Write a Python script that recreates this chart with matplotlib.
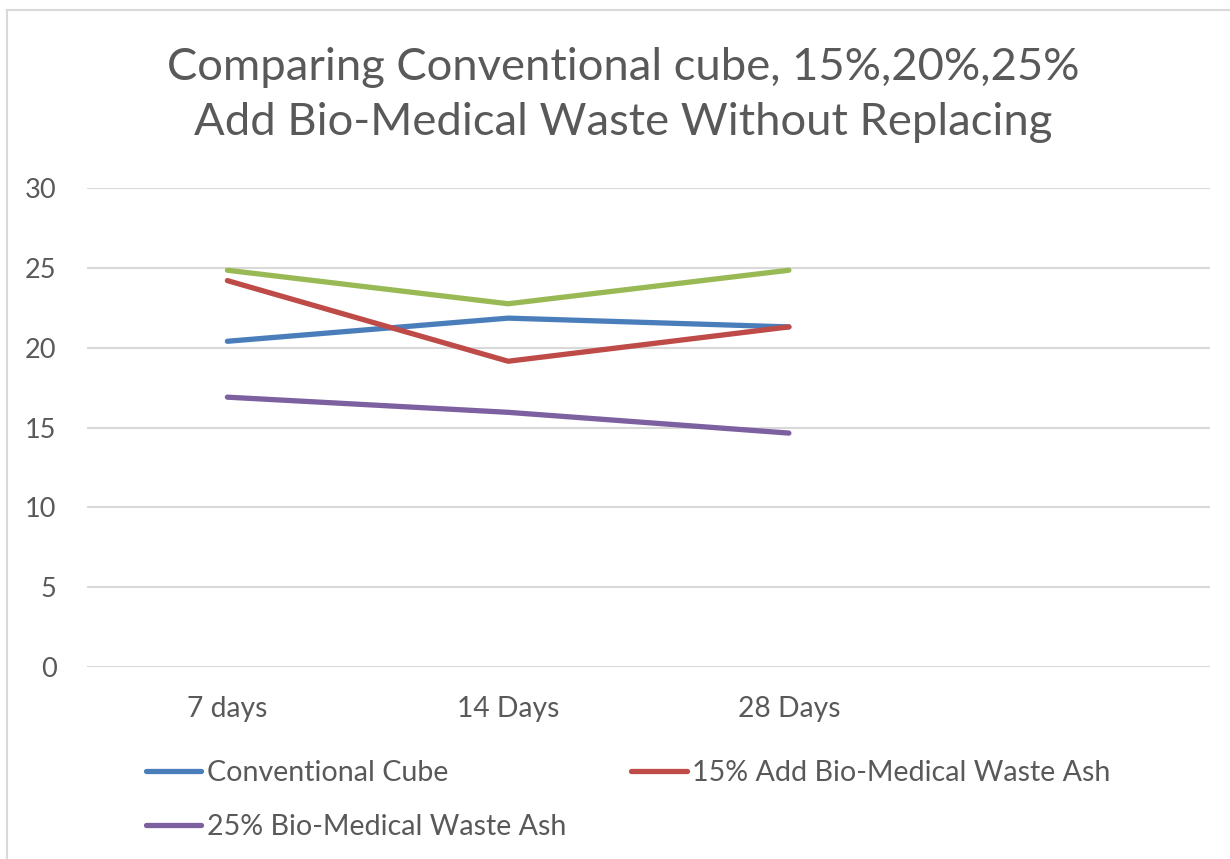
import matplotlib.pyplot as plt
from matplotlib.lines import Line2D

plt.rcParams['font.family'] = ['Lato', 'DejaVu Sans']

# data (4th category slot is empty)
categories = ["7 days", "14 Days", "28 Days", ""]
conventional = [20.4, 21.85, 21.3]
add_15 = [24.2, 19.15, 21.3]
add_20 = [24.85, 22.75, 24.85]
add_25 = [16.9, 15.95, 14.65]

text_color = "#595959"
grid_color = "#D9D9D9"

fig = plt.figure(figsize=(12.3, 8.59), dpi=100)
ax = fig.add_axes([87 / 1230, 1 - 667 / 859, (1210 - 87) / 1230, (667 - 188) / 859])

x = list(range(len(conventional)))
l1, = ax.plot(x, conventional, color="#4A7EBB", lw=3.8, solid_capstyle="round", label="Conventional Cube")
l2, = ax.plot(x, add_15, color="#BE4B48", lw=3.8, solid_capstyle="round", label="15% Add Bio-Medical Waste Ash")
l3, = ax.plot(x, add_20, color="#98B954", lw=3.8, solid_capstyle="round")
l4, = ax.plot(x, add_25, color="#7D60A0", lw=3.8, solid_capstyle="round", label="25% Bio-Medical Waste Ash")

ax.set_xlim(-0.5, len(categories) - 0.5)
ax.set_ylim(0, 30)
ax.set_xticks(range(len(categories)))
ax.set_xticklabels(categories)
ax.set_yticks(range(0, 31, 5))
ax.tick_params(length=0, labelsize=19.5, colors=text_color)
ax.tick_params(axis="x", labelsize=20.3, pad=21)
ax.tick_params(axis="y", pad=22)
ax.yaxis.grid(True, color=grid_color, lw=1.5)
ax.set_axisbelow(True)
for s in ax.spines.values():
    s.set_visible(False)

fig.text(0.5065, 0.889, "Comparing Conventional cube, 15%,20%,25%\nAdd Bio-Medical Waste Without Replacing",
         ha="center", va="center", fontsize=32.7, color=text_color, linespacing=1.42)

leg = fig.legend([l1, l4, l2], [l1.get_label(), l4.get_label(), l2.get_label()],
                 ncol=2, loc="upper left", bbox_to_anchor=(120 / 1230, 1 - 734 / 859),
                 frameon=False, fontsize=20.6, handlelength=1.93, handletextpad=0.2,
                 columnspacing=2.28, labelspacing=1.0, labelcolor=text_color)

# chart border (image is cropped on right/bottom)
fig.add_artist(Line2D([7 / 1230, 7 / 1230], [0, 1 - 10 / 859], color=grid_color, lw=1.5))
fig.add_artist(Line2D([7 / 1230, 1], [1 - 10 / 859, 1 - 10 / 859], color=grid_color, lw=1.5))

fig.savefig("out.png", dpi=100)
